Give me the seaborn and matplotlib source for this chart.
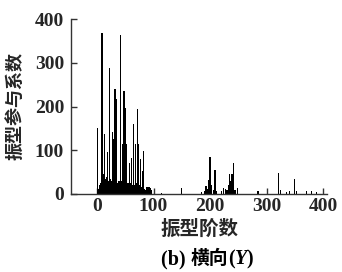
import matplotlib
matplotlib.use("Agg")
import matplotlib.pyplot as plt
import seaborn as sns
import pandas as pd
from matplotlib.offsetbox import TextArea, HPacker, AnnotationBbox

# mode orders and participation factors (lateral Y direction)
modes = [1, 2, 3, 4, 5, 6, 7, 8, 9, 10, 11, 12, 13, 14, 15, 16, 17, 18, 19, 20,
         21, 22, 23, 24, 25, 26, 27, 28, 29, 30, 31, 32, 33, 34, 35, 36, 37, 38, 39, 40,
         41, 42, 43, 44, 45, 46, 47, 48, 49, 50, 51, 52, 53, 54, 55, 56, 57, 58, 59, 60,
         61, 62, 63, 64, 65, 66, 67, 68, 69, 70, 71, 72, 73, 74, 75, 76, 77, 78, 79, 80,
         81, 82, 83, 84, 85, 86, 87, 88, 89, 90, 91, 92, 93, 94, 95, 96, 97,
         114, 150, 185, 190, 193, 195, 197, 200, 203, 206, 209, 212, 220, 224, 227,
         230, 233, 235, 237, 239, 241, 244, 249, 285, 321, 325, 336, 340, 350, 353,
         371, 380, 389]
factors = [152, 8, 12, 20, 10, 18, 25, 213, 369, 30, 45, 20, 137, 35, 15, 25, 40, 95, 20, 30,
           25, 289, 35, 15, 30, 20, 25, 141, 20, 125, 15, 240, 30, 20, 217, 25, 15, 20, 30, 15,
           25, 363, 30, 20, 115, 25, 15, 236, 20, 197, 30, 114, 20, 15, 25, 20, 72, 15, 20, 25,
           83, 15, 20, 25, 160, 20, 15, 114, 20, 25, 15, 194, 20, 114, 15, 20, 80, 10, 15, 53,
           10, 99, 8, 12, 6, 10, 5, 16, 12, 15, 10, 16, 8, 14, 6, 10, 4,
           3, 14, 5, 8, 18, 12, 31, 85, 20, 10, 54, 8, 6, 14, 12,
           10, 20, 45, 30, 45, 72, 10, 14, 7, 49, 9, 5, 7, 34, 7,
           6, 6, 5]

x_ticks = [0, 100, 200, 300, 400]
y_ticks = [0, 100, 200, 300, 400]
x_label = "振型阶数"
y_label = "振型参与系数"
caption_parts = ["(b) ", "横向", "(", "Y", ")"]

df = pd.DataFrame({"mode": modes, "factor": factors})

sns.set_style("ticks")
plt.rcParams["font.family"] = ["Liberation Serif", "Noto Sans CJK SC", "DejaVu Sans"]
plt.rcParams["font.weight"] = "bold"

fig = plt.figure(figsize=(3.42, 2.72), dpi=100)
ax = fig.add_axes([71 / 342, 78 / 272, 256 / 342, 175 / 272])

sns.barplot(data=df, x="mode", y="factor", native_scale=True, color="black",
            width=2.2, linewidth=0, saturation=1, ax=ax, errorbar=None)

ax.set_xlim(-46, 407)
ax.set_ylim(0, 400)
ax.set_xticks(x_ticks)
ax.set_yticks(y_ticks)
ax.set_xticklabels([str(t) for t in x_ticks], fontsize=14, fontweight="bold")
ax.set_yticklabels([str(t) for t in y_ticks], fontsize=14, fontweight="bold")
ax.tick_params(axis="both", direction="in", length=4.5, width=1, color="#333333")
ax.tick_params(axis="y", pad=5)
ax.tick_params(axis="x", pad=3)
for s in ["top", "right"]:
    ax.spines[s].set_visible(False)
for s in ["left", "bottom"]:
    ax.spines[s].set_linewidth(1.0)
    ax.spines[s].set_color("#333333")

ax.set_xlabel(x_label, family=["Noto Sans CJK SC"], fontsize=14, fontweight="bold", labelpad=2)
ax.xaxis.set_label_coords((200 - 71) / 256, -0.148)
ax.set_ylabel(y_label, family=["Noto Sans CJK SC"], fontsize=13, fontweight="bold", labelpad=7)

styles = [
    dict(family="Liberation Serif", weight="bold", fontsize=14.5),
    dict(family="Noto Sans CJK SC", weight="bold", fontsize=13.5),
    dict(family="Liberation Serif", weight="bold", fontsize=14.5),
    dict(family="Liberation Serif", weight="bold", style="italic", fontsize=14.5),
    dict(family="Liberation Serif", weight="bold", fontsize=14.5),
]
areas = [TextArea(t, textprops=dict(color="black", **st))
         for t, st in zip(caption_parts, styles)]
pack = HPacker(children=areas, pad=0, sep=0, align="baseline")
ab = AnnotationBbox(pack, (207 / 342, 1 - 259 / 272), xycoords="figure fraction",
                    frameon=False, box_alignment=(0.5, 0.5), pad=0)
fig.add_artist(ab)

fig.savefig("out.png", dpi=100)
